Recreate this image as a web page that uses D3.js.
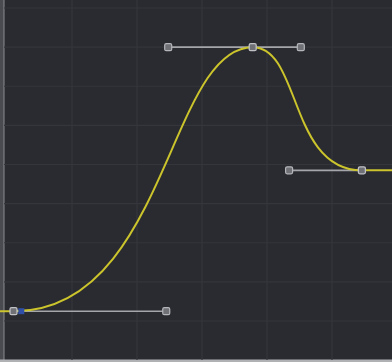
<!DOCTYPE html>
<html>
<head>
<meta charset="utf-8">
<script src="https://cdn.jsdelivr.net/npm/d3@7"></script>
<style>
  html, body { margin: 0; padding: 0; background: #2a2b30; }
  svg { display: block; }
</style>
</head>
<body>
<div class="spline"></div>
<script>
// keyframes (frame, value) and their bezier handles
var keyFrames = [1, 37.8, 54.6],
    keyValues = [0.025, 0.7, 0.385];
var handleInFrames  = [null, 24.8, 43.4],
    handleOutFrames = [24.5, 45.2, null];
var selectedFrame = 2.2;           // blue "selected" marker on first key
var gridFrames = [0, 10, 20, 30, 40, 50],
    gridValues = [0, 0.1, 0.2, 0.3, 0.4, 0.5, 0.6, 0.7, 0.8];

var width = 392, height = 362;

var x = d3.scaleLinear().domain([0, 60]).range([7, 397]);
var y = d3.scaleLinear().domain([0, 0.8]).range([321, 8]);

var svg = d3.select(".spline").append("svg")
    .attr("width", width)
    .attr("height", height);

// panel background + frame
svg.append("rect")
    .attr("width", width).attr("height", height)
    .attr("fill", "#2a2b30");
svg.append("rect")
    .attr("x", 0).attr("y", 0).attr("width", 4).attr("height", 360)
    .attr("fill", "#4a4b50");
svg.append("line")
    .attr("x1", 4).attr("x2", 4).attr("y1", 0).attr("y2", 360)
    .attr("stroke", "#8a8b8f").attr("stroke-width", 1);
svg.append("rect")
    .attr("x", 0).attr("y", 359.5).attr("width", width).attr("height", 2.5)
    .attr("fill", "#b0b1b5");

// grid
var grid = svg.append("g").attr("class", "grid");
grid.selectAll(".vline")
    .data(gridFrames.slice(1))
  .enter().append("line")
    .attr("x1", function(d) { return x(d); })
    .attr("x2", function(d) { return x(d); })
    .attr("y1", 0).attr("y2", 360)
    .attr("stroke", "#35363b").attr("stroke-width", 1.2);
grid.selectAll(".hline")
    .data(gridValues)
  .enter().append("line")
    .attr("x1", 4).attr("x2", width)
    .attr("y1", function(d) { return y(d); })
    .attr("y2", function(d) { return y(d); })
    .attr("stroke", "#35363b").attr("stroke-width", 1.2);

// build key objects
var keys = keyFrames.map(function(f, i) {
  return {f: f, v: keyValues[i], hin: handleInFrames[i], hout: handleOutFrames[i]};
});

// handle lines
var handles = [];
keys.forEach(function(k) {
  if (k.hin != null) handles.push({f0: k.f, f1: k.hin, v: k.v});
  if (k.hout != null) handles.push({f0: k.f, f1: k.hout, v: k.v});
});

svg.append("g").selectAll("line")
    .data(handles)
  .enter().append("line")
    .attr("x1", function(d) { return x(d.f0); })
    .attr("x2", function(d) { return x(d.f1); })
    .attr("y1", function(d) { return y(d.v); })
    .attr("y2", function(d) { return y(d.v); })
    .attr("stroke", "#a4a6aa")
    .attr("stroke-width", 1.6);

// the spline
var p = d3.path();
p.moveTo(x(-2), y(keys[0].v));
p.lineTo(x(keys[0].f), y(keys[0].v));
for (var i = 0; i < keys.length - 1; i++) {
  var a = keys[i], b = keys[i + 1];
  p.bezierCurveTo(x(a.hout), y(a.v), x(b.hin), y(b.v), x(b.f), y(b.v));
}
p.lineTo(x(62), y(keys[keys.length - 1].v));

svg.append("path")
    .attr("d", p.toString())
    .attr("fill", "none")
    .attr("stroke", "#cbc42c")
    .attr("stroke-width", 2);

// selected marker
svg.append("rect")
    .attr("x", x(selectedFrame) - 3)
    .attr("y", y(keyValues[0]) - 3)
    .attr("width", 6).attr("height", 6)
    .attr("fill", "#2f4fa8");

// handle end squares
svg.append("g").selectAll("rect")
    .data(handles)
  .enter().append("rect")
    .attr("x", function(d) { return x(d.f1) - 3.5; })
    .attr("y", function(d) { return y(d.v) - 3.5; })
    .attr("width", 7).attr("height", 7)
    .attr("rx", 1.5)
    .attr("fill", "#6f7176")
    .attr("stroke", "#b4b6ba")
    .attr("stroke-width", 1.2);

// key squares
svg.append("g").selectAll("rect")
    .data(keys)
  .enter().append("rect")
    .attr("x", function(d) { return x(d.f) - 3.5; })
    .attr("y", function(d) { return y(d.v) - 3.5; })
    .attr("width", 7).attr("height", 7)
    .attr("rx", 1.5)
    .attr("fill", "#6f7176")
    .attr("stroke", "#c0c2c6")
    .attr("stroke-width", 1.3);
</script>
</body>
</html>
